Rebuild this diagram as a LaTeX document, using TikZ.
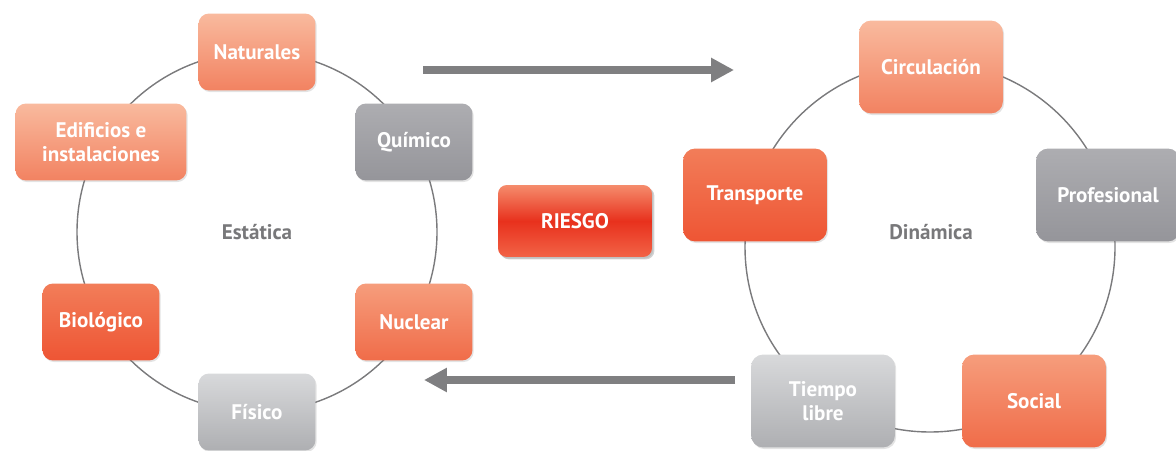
\documentclass[tikz,border=0pt]{standalone}
\usepackage{fontspec}
\setmainfont{PT Sans}
\usetikzlibrary{arrows.meta,shadows}
\definecolor{naranjaA}{HTML}{F9BA9E}
\definecolor{naranjaB}{HTML}{F28261}
\definecolor{medioA}{HTML}{F69D7C}
\definecolor{medioB}{HTML}{F06C49}
\definecolor{rojoA}{HTML}{F27D59}
\definecolor{rojoB}{HTML}{EE5534}
\definecolor{grisA}{HTML}{ADADB1}
\definecolor{grisB}{HTML}{95959A}
\definecolor{perlaA}{HTML}{D8D9DB}
\definecolor{perlaB}{HTML}{AEAFB2}
\definecolor{flechagris}{HTML}{7F7F81}
\definecolor{lineagris}{HTML}{7A7A7C}
\definecolor{textogris}{HTML}{78787A}
\definecolor{riesgoA}{HTML}{F58C6C}
\definecolor{riesgoM}{HTML}{E8311D}
\definecolor{riesgoB}{HTML}{F26346}

\begin{document}
\begin{tikzpicture}[line cap=round,line join=round,x=0.02cm,y=0.02cm,
	caja/.style={rounded corners=6pt,minimum width=2.34cm,minimum height=1.54cm,inner sep=2pt,
		text=white,align=center,font=\bfseries\fontsize{12}{13.8}\selectfont,
		drop shadow={opacity=0.22,shadow xshift=0.7pt,shadow yshift=-0.9pt}},
	cajagrande/.style={caja,minimum width=2.88cm,minimum height=1.86cm,rounded corners=7pt},
	claro/.style={top color=naranjaA,bottom color=naranjaB},
	medio/.style={top color=medioA,bottom color=medioB},
	fuerte/.style={top color=rojoA,bottom color=rojoB},
	gris/.style={top color=grisA,bottom color=grisB},
	perla/.style={top color=perlaA,bottom color=perlaB},
	titulo/.style={text=textogris,font=\bfseries\fontsize{12}{13.8}\selectfont},
	rueda/.style={line width=0.8pt,color=lineagris},
	flecha/.style={line width=4.5pt,line cap=butt,color=flechagris,-{Triangle[length=13pt,width=13pt]}}]
	\clip(0,0) rectangle (1176,450);
	% centros de las dos ruedas
	\coordinate (est) at (257,218);
	\coordinate (din) at (930,203);
	\draw[rueda] (est) circle (180);
	\draw[rueda] (din) circle (185);
	% flechas
	\coordinate (ida1) at (423,380);
	\coordinate (ida2) at (734,380);
	\coordinate (vuelta1) at (735,70);
	\coordinate (vuelta2) at (424,70);
	\draw[flecha] (ida1) -- (ida2);
	\draw[flecha] (vuelta1) -- (vuelta2);
	% estatica
	\node[caja,claro] (natu) at (257,398) {Naturales};
	\node[caja,gris] (quim) at (414,308) {Químico};
	\node[caja,medio] (nucl) at (414,128) {Nuclear};
	\node[caja,perla] (fisi) at (257,38) {Físico};
	\node[caja,fuerte] (biol) at (101,128) {Biológico};
	\node[caja,claro,minimum width=3.42cm] (edif) at (101,308) {Edificios e\\instalaciones};
	\node[titulo] (estatica) at (est) {Estática};
	% dinamica
	\node[cajagrande,claro] (circ) at (931,383) {Circulación};
	\node[cajagrande,gris] (prof) at (1108,255) {Profesional};
	\node[cajagrande,medio] (soci) at (1034,49) {Social};
	\node[cajagrande,perla] (tiem) at (823,49) {Tiempo\\libre};
	\node[cajagrande,fuerte] (tran) at (755,255) {Transporte};
	\node[titulo] (dinamica) at (931,218) {Dinámica};
	% riesgo
	\node[caja,minimum width=3.08cm,minimum height=1.44cm,rounded corners=5pt,
		top color=riesgoA,bottom color=riesgoB,middle color=riesgoM,
		drop shadow={opacity=0.35,shadow xshift=1.4pt,shadow yshift=-1.4pt}] (riesgo) at (575,229) {RIESGO};
\end{tikzpicture}
\end{document}
